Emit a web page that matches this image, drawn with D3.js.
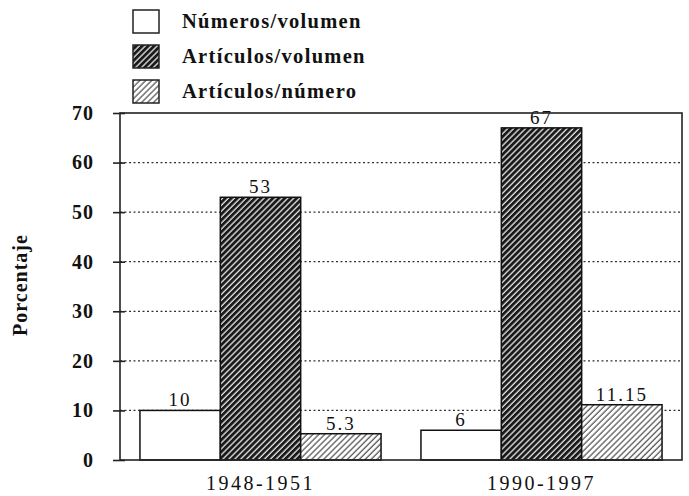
<!DOCTYPE html>
<html>
<head>
<meta charset="utf-8">
<script src="https://cdn.jsdelivr.net/npm/d3@7"></script>
<style>
  body { margin: 0; background: #fff; }
  text { font-family: "Liberation Serif", "Times New Roman", serif; fill: #111; }
</style>
</head>
<body>
<div id="chart-area"></div>
<script>
// datos
var periodos = ["1948-1951", "1990-1997"];
var series = ["Números/volumen", "Artículos/volumen", "Artículos/número"];
var numerosVolumen = [10, 6];
var articulosVolumen = [53, 67];
var articulosNumero = [5.3, 11.15];
var etiquetas = [["10", "6"], ["53", "67"], ["5.3", "11.15"]];
var yTicks = [0, 10, 20, 30, 40, 50, 60, 70];

var valores = [numerosVolumen, articulosVolumen, articulosNumero];

var margin = {top: 113, right: 7, bottom: 36, left: 120};
var width = 689 - margin.left - margin.right;
var height = 496 - margin.top - margin.bottom;

var svg = d3.select("#chart-area").append("svg")
              .attr("width", 689)
              .attr("height", 496);

// tramas
var defs = svg.append("defs");
var dark = defs.append("pattern")
    .attr("id", "hatchDark")
    .attr("patternUnits", "userSpaceOnUse")
    .attr("width", 4.2).attr("height", 4.2)
    .attr("patternTransform", "rotate(45)");
dark.append("rect").attr("width", 4.2).attr("height", 4.2).attr("fill", "#1a1a1a");
dark.append("line").attr("x1", 1).attr("x2", 1).attr("y1", 0).attr("y2", 4.2)
    .attr("stroke", "#e8e8e8").attr("stroke-width", 1.3);

var light = defs.append("pattern")
    .attr("id", "hatchLight")
    .attr("patternUnits", "userSpaceOnUse")
    .attr("width", 4.2).attr("height", 4.2)
    .attr("patternTransform", "rotate(45)");
light.append("rect").attr("width", 4.2).attr("height", 4.2).attr("fill", "#fff");
light.append("line").attr("x1", 1).attr("x2", 1).attr("y1", 0).attr("y2", 4.2)
    .attr("stroke", "#5a5a5a").attr("stroke-width", 1.3);

var fills = ["#fff", "url(#hatchDark)", "url(#hatchLight)"];

var g = svg.append("g")
    .attr("transform", "translate(" + margin.left + ", " + margin.top + ")");

var y = d3.scaleLinear()
    .domain([0, 70])
    .range([height, 0]);

var x0 = d3.scaleBand()
    .domain(periodos)
    .range([0, width])
    .paddingInner(0.142)
    .paddingOuter(0.071);

var x1 = d3.scaleBand()
    .domain(d3.range(series.length))
    .range([0, x0.bandwidth()]);

// rejilla punteada
g.selectAll("line.grid")
  .data(yTicks.filter((d) => d > 0 && d < 70))
  .enter()
  .append("line")
    .attr("class", "grid")
    .attr("x1", 0).attr("x2", width)
    .attr("y1", (d) => y(d)).attr("y2", (d) => y(d))
    .attr("stroke", "#333")
    .attr("stroke-width", 1.2)
    .attr("stroke-dasharray", "2,2.5");

// barras
var grupos = g.selectAll("g.grupo")
  .data(periodos)
  .enter()
  .append("g")
    .attr("class", "grupo")
    .attr("transform", (d) => "translate(" + x0(d) + ",0)");

grupos.selectAll("rect")
  .data((d, i) => valores.map((v, s) => ({s: s, v: v[i], label: etiquetas[s][i]})))
  .enter()
  .append("rect")
    .attr("x", (d) => x1(d.s))
    .attr("y", (d) => y(d.v))
    .attr("width", x1.bandwidth())
    .attr("height", (d) => height - y(d.v))
    .attr("fill", (d) => fills[d.s])
    .attr("stroke", "#111")
    .attr("stroke-width", 1.5);

grupos.selectAll("text.valor")
  .data((d, i) => valores.map((v, s) => ({s: s, v: v[i], label: etiquetas[s][i]})))
  .enter()
  .append("text")
    .attr("class", "valor")
    .attr("x", (d) => x1(d.s) + x1.bandwidth() / 2)
    .attr("y", (d) => y(d.v) - 4)
    .attr("text-anchor", "middle")
    .attr("font-size", "19px")
    .attr("letter-spacing", "2px")
    .text((d) => d.label);

// marco
g.append("rect")
  .attr("x", 0).attr("y", 0)
  .attr("width", width).attr("height", height)
  .attr("fill", "none")
  .attr("stroke", "#222")
  .attr("stroke-width", 1.6);

// eje y
var leftAxis = d3.axisLeft(y)
    .tickValues(yTicks)
    .tickSizeInner(7)
    .tickSizeOuter(0)
    .tickPadding(19)
    .tickFormat(d3.format("d"));

var ejeY = g.append("g")
  .attr("class", "left axis")
  .call(leftAxis);
ejeY.select(".domain").remove();
ejeY.selectAll(".tick line")
  .attr("x1", 5)
  .attr("stroke", "#222")
  .attr("stroke-width", 1.6);
ejeY.selectAll("text")
  .attr("font-size", "20px")
  .attr("font-weight", "bold")
  .attr("letter-spacing", "1px")
  .style("fill", "#111");

// eje x
var bottomAxis = d3.axisBottom(x0)
    .tickSize(0)
    .tickPadding(16);

var ejeX = g.append("g")
  .attr("class", "bottom axis")
  .attr("transform", "translate(0, " + height + ")")
  .call(bottomAxis);
ejeX.select(".domain").remove();
ejeX.selectAll("text")
  .attr("font-size", "20px")
  .attr("letter-spacing", "2.5px")
  .style("fill", "#111");

// etiqueta eje y
svg.append("text")
  .attr("class", "y axis-label")
  .attr("x", -285)
  .attr("y", 27)
  .attr("transform", "rotate(-90)")
  .attr("text-anchor", "middle")
  .attr("font-size", "20px")
  .attr("font-weight", "bold")
  .attr("letter-spacing", "1px")
  .text("Porcentaje");

// leyenda
var leyenda = svg.selectAll("g.leyenda")
  .data(series)
  .enter()
  .append("g")
    .attr("class", "leyenda")
    .attr("transform", (d, i) => "translate(133," + (10 + i * 35) + ")");

leyenda.append("rect")
  .attr("width", 26).attr("height", 23)
  .attr("fill", (d, i) => fills[i])
  .attr("stroke", "#222")
  .attr("stroke-width", 1.5);

leyenda.append("text")
  .attr("x", 49)
  .attr("y", 18)
  .attr("font-size", "20.5px")
  .attr("font-weight", "bold")
  .attr("letter-spacing", "1.3px")
  .text((d) => d);
</script>
</body>
</html>
